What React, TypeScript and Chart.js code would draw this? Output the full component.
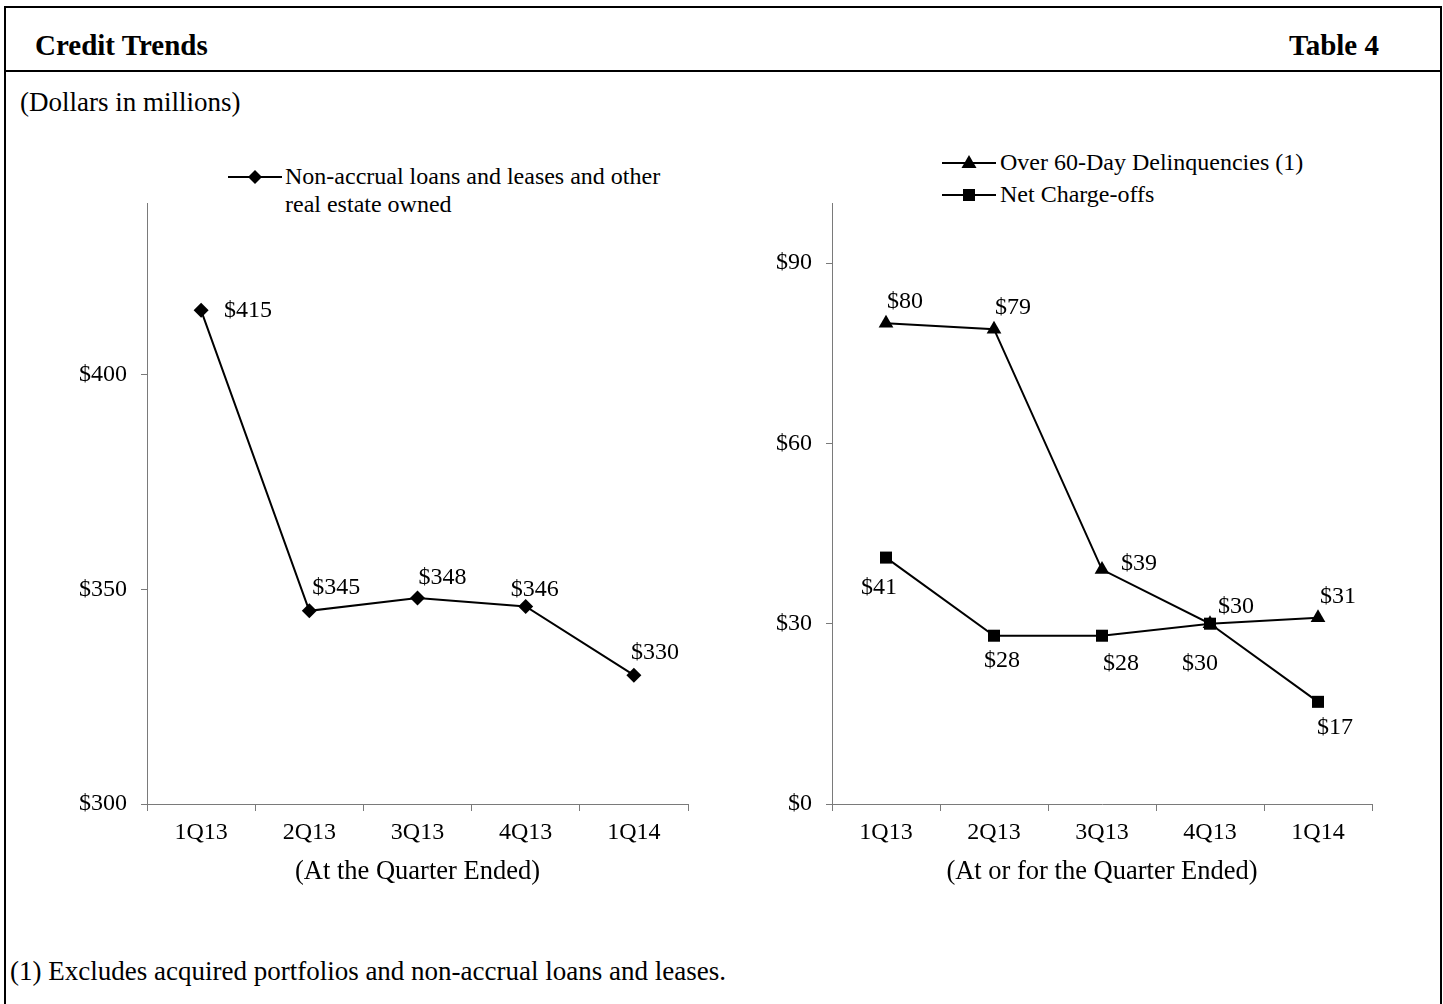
import React, { useEffect, useRef } from 'react';
import { Chart, registerables } from 'chart.js';

Chart.register(...registerables);

// ---- data ----
const quarters = ['1Q13', '2Q13', '3Q13', '4Q13', '1Q14'];
const nonAccrual = [415, 345, 348, 346, 330];
const delinquencies = [80, 79, 39, 30, 31];
const chargeOffs = [41, 28, 28, 30, 17];
const leftTickValues = [300, 350, 400];
const rightTickValues = [0, 30, 60, 90];
const leftRange = [300, 440];
const rightRange = [0, 100];

// ---- label placement (styling, pixels relative to each point) ----
const nonAccrualLabelOffsets = [[47, 0], [27, -23], [25, -20], [9, -17], [21, -23]];
const delinquencyLabelOffsets = [[19, -21], [19, -22], [37, -6], [26, -17], [20, -21]];
const chargeOffLabelOffsets = [[-7, 30], [8, 25], [19, 28], [-10, 40], [17, 26]];

const FAMILY = '"Liberation Serif", "Times New Roman", serif';
const TICK_FS = 24;
const LABEL_FS = 24;
const TITLE_FS = 26.5;
const AXIS = '#7a7a7a';

const valueLabels = {
  id: 'valueLabels',
  afterDatasetsDraw(chart: any, _args: any, opts: any) {
    const ctx = chart.ctx;
    ctx.save();
    ctx.font = `${LABEL_FS}px ${FAMILY}`;
    ctx.fillStyle = '#000';
    ctx.textAlign = 'center';
    ctx.textBaseline = 'middle';
    chart.data.datasets.forEach((ds: any, i: number) => {
      const meta = chart.getDatasetMeta(i);
      const offs = (opts.offsets && opts.offsets[i]) || [];
      meta.data.forEach((pt: any, j: number) => {
        const o = offs[j] || [0, -20];
        ctx.fillText('$' + ds.data[j], pt.x + o[0], pt.y + o[1]);
      });
    });
    ctx.restore();
  },
};

type Series = { label: string; data: number[]; pointStyle: string; radius: number };

function LineChart(props: {
  left: number; top: number; width: number; height: number; rightPad: number;
  series: Series[]; offsets: number[][][]; range: number[]; tickValues: number[]; xTitle: string;
}) {
  const ref = useRef<HTMLCanvasElement>(null);
  useEffect(() => {
    const chart = new Chart(ref.current as HTMLCanvasElement, {
      type: 'line',
      data: {
        labels: quarters,
        datasets: props.series.map((s) => ({
          label: s.label,
          data: s.data,
          borderColor: '#000',
          backgroundColor: '#000',
          borderWidth: 2,
          pointStyle: s.pointStyle as any,
          pointRadius: s.radius,
          pointBackgroundColor: '#000',
          pointBorderColor: '#000',
          pointBorderWidth: 0,
          tension: 0,
          clip: false as any,
        })),
      },
      plugins: [valueLabels as any],
      options: {
        responsive: false,
        animation: false,
        events: [],
        layout: { padding: { left: 0, right: props.rightPad, top: 13, bottom: 0 } },
        plugins: {
          legend: { display: false },
          tooltip: { enabled: false },
          valueLabels: { offsets: props.offsets },
        } as any,
        scales: {
          x: {
            type: 'category',
            offset: true,
            grid: { offset: true, drawOnChartArea: false, drawTicks: true, tickLength: 7, color: AXIS, lineWidth: 1 },
            border: { display: true, color: AXIS, width: 1 },
            ticks: { color: '#000', font: { family: FAMILY, size: TICK_FS }, padding: 7, maxRotation: 0, autoSkip: false },
            title: { display: true, text: props.xTitle, color: '#000', font: { family: FAMILY, size: TITLE_FS }, padding: { top: 0, bottom: 6 } },
            afterFit: (s: any) => { s.height = 90; s.paddingLeft = 0; s.paddingRight = 0; },
          },
          y: {
            type: 'linear',
            min: props.range[0],
            max: props.range[1],
            grid: { drawOnChartArea: false, drawTicks: true, tickLength: 6, color: AXIS, lineWidth: 1 },
            border: { display: true, color: AXIS, width: 1 },
            ticks: {
              color: '#000',
              font: { family: FAMILY, size: TICK_FS },
              padding: 14,
              callback: (v: any) => '$' + v,
            },
            afterBuildTicks: (s: any) => {
              s.ticks = props.tickValues.map((v) => ({ value: v }));
            },
            afterFit: (s: any) => { s.width = 107; s.paddingTop = 0; s.paddingBottom = 0; },
          },
        },
      } as any,
    });
    return () => chart.destroy();
  }, []);
  return (
    <canvas
      ref={ref}
      width={props.width}
      height={props.height}
      style={{ position: 'absolute', left: props.left, top: props.top, width: props.width, height: props.height }}
    />
  );
}

const textStyle: React.CSSProperties = {
  position: 'absolute',
  fontFamily: FAMILY,
  color: '#000',
  whiteSpace: 'nowrap',
};

function Marker({ shape }: { shape: string }) {
  return (
    <svg width={54} height={20} style={{ position: 'absolute', left: 0, top: -10 }}>
      <line x1={0} y1={10} x2={54} y2={10} stroke="#000" strokeWidth={2} />
      {shape === 'diamond' && <polygon points="27,3 34,10 27,17 20,10" fill="#000" />}
      {shape === 'triangle' && <polygon points="27,2 34.5,15 19.5,15" fill="#000" />}
      {shape === 'square' && <rect x={21} y={4} width={12} height={12} fill="#000" />}
    </svg>
  );
}

export default function App() {
  return (
    <div style={{ position: 'absolute', left: 0, top: 0, width: 1443, height: 1004, overflow: 'hidden', background: '#fff' }}>
      <div style={{ position: 'absolute', left: 4, top: 6, width: 1434, height: 1100, border: '2px solid #000' }} />
      <div style={{ position: 'absolute', left: 4, top: 70, width: 1438, height: 2, background: '#000' }} />
      <div style={{ ...textStyle, left: 35, top: 28, fontSize: 29, lineHeight: '34px', fontWeight: 'bold' }}>Credit Trends</div>
      <div style={{ ...textStyle, left: 1180, width: 199, textAlign: 'right', top: 28, fontSize: 29, lineHeight: '34px', fontWeight: 'bold' }}>Table 4</div>
      <div style={{ ...textStyle, left: 20, top: 86, fontSize: 27, lineHeight: '32px' }}>(Dollars in millions)</div>

      {/* left legend */}
      <div style={{ position: 'absolute', left: 228, top: 177 }}>
        <Marker shape="diamond" />
      </div>
      <div style={{ ...textStyle, left: 285, top: 162, fontSize: 24, lineHeight: '28px' }}>
        Non-accrual loans and leases and other
        <br />
        real estate owned
      </div>

      {/* right legend */}
      <div style={{ position: 'absolute', left: 942, top: 163 }}>
        <Marker shape="triangle" />
      </div>
      <div style={{ ...textStyle, left: 1000, top: 148, fontSize: 24, lineHeight: '28px' }}>Over 60-Day Delinquencies (1)</div>
      <div style={{ position: 'absolute', left: 942, top: 195 }}>
        <Marker shape="square" />
      </div>
      <div style={{ ...textStyle, left: 1000, top: 180, fontSize: 24, lineHeight: '28px' }}>Net Charge-offs</div>

      <LineChart
        left={40}
        top={190}
        width={685}
        height={704}
        rightPad={37}
        series={[{ label: 'Non-accrual loans and leases and other real estate owned', data: nonAccrual, pointStyle: 'rectRot', radius: 7.5 }]}
        offsets={[nonAccrualLabelOffsets]}
        range={leftRange}
        tickValues={leftTickValues}
        xTitle="(At the Quarter Ended)"
      />
      <LineChart
        left={725}
        top={190}
        width={690}
        height={704}
        rightPad={43}
        series={[
          { label: 'Over 60-Day Delinquencies (1)', data: delinquencies, pointStyle: 'triangle', radius: 8.5 },
          { label: 'Net Charge-offs', data: chargeOffs, pointStyle: 'rect', radius: 8.5 },
        ]}
        offsets={[delinquencyLabelOffsets, chargeOffLabelOffsets]}
        range={rightRange}
        tickValues={rightTickValues}
        xTitle="(At or for the Quarter Ended)"
      />

      <div style={{ ...textStyle, left: 10, top: 955, fontSize: 27, lineHeight: '32px' }}>(1) Excludes acquired portfolios and non-accrual loans and leases.</div>
    </div>
  );
}
